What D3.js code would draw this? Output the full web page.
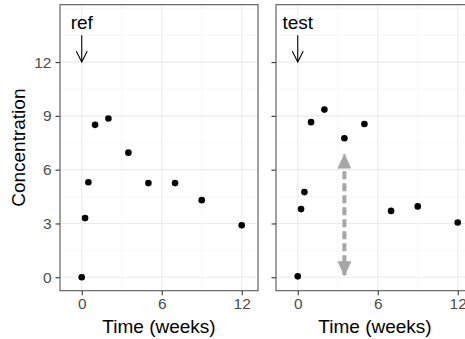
<!DOCTYPE html>
<html>
<head>
<meta charset="utf-8">
<script src="https://cdn.jsdelivr.net/npm/d3@7"></script>
<style>
  body { margin: 0; background: #fff; }
  svg { display: block; font-family: "Liberation Sans", Arial, sans-serif; }
</style>
</head>
<body>
<div id="chart"></div>
<script>
// data
var panels = ["ref", "test"];
var times = [0, 0.25, 0.5, 1, 2, 3.5, 5, 7, 9, 12];
var refConc = [0, 3.3, 5.3, 8.5, 8.85, 6.95, 5.25, 5.25, 4.3, 2.9];
var testConc = [0.05, 3.8, 4.75, 8.65, 9.35, 7.75, 8.55, 3.7, 3.95, 3.05];
var yTicks = [0, 3, 6, 9, 12];
var yMinor = [1.5, 4.5, 7.5, 10.5, 13.5, 15];
var xTicks = [0, 6, 12];
var xMinor = [3, 9];
var doseArrow = {x: 0, from: 13.5, to: 12};
var diffArrow = {x: 3.5, from: 0.05, to: 6.9};

var W = 465, H = 339;
var panelW = 198, pTop = 4.7, pBottom = 290.7;
var panelX = [60, 276];

var svg = d3.select("#chart").append("svg").attr("width", W).attr("height", H);
var defs = svg.append("defs");
defs.append("marker").attr("id", "open").attr("viewBox", "0 0 12 12")
  .attr("refX", 11).attr("refY", 6).attr("markerWidth", 12).attr("markerHeight", 12)
  .attr("markerUnits", "userSpaceOnUse").attr("orient", "auto")
  .append("path").attr("d", "M0,0.5 L11,6 L0,11.5").attr("fill", "none")
  .attr("stroke", "#000").attr("stroke-width", 1.1);
defs.append("marker").attr("id", "tri").attr("viewBox", "0 0 15 14")
  .attr("refX", 14).attr("refY", 7).attr("markerWidth", 15).attr("markerHeight", 14)
  .attr("markerUnits", "userSpaceOnUse").attr("orient", "auto-start-reverse")
  .append("path").attr("d", "M0,0 L15,7 L0,14 Z").attr("fill", "#a6a6a6");

var y = d3.scaleLinear().domain([-0.75, 15.2]).range([pBottom, pTop]);

panels.forEach(function (name, i) {
  var x = d3.scaleLinear().domain([-1.63, 13.22]).range([panelX[i], panelX[i] + panelW]);
  var g = svg.append("g");
  var conc = i == 0 ? refConc : testConc;

  // grid
  g.selectAll(".ymin").data(yMinor).enter().append("line")
    .attr("x1", x.range()[0]).attr("x2", x.range()[1])
    .attr("y1", d => y(d)).attr("y2", d => y(d))
    .attr("stroke", "#f2f2f2").attr("stroke-width", 0.7);
  g.selectAll(".xmin").data(xMinor).enter().append("line")
    .attr("y1", pTop).attr("y2", pBottom)
    .attr("x1", d => x(d)).attr("x2", d => x(d))
    .attr("stroke", "#f2f2f2").attr("stroke-width", 0.7);
  g.selectAll(".ymaj").data(yTicks).enter().append("line")
    .attr("x1", x.range()[0]).attr("x2", x.range()[1])
    .attr("y1", d => y(d)).attr("y2", d => y(d))
    .attr("stroke", "#ebebeb").attr("stroke-width", 1.1);
  g.selectAll(".xmaj").data(xTicks).enter().append("line")
    .attr("y1", pTop).attr("y2", pBottom)
    .attr("x1", d => x(d)).attr("x2", d => x(d))
    .attr("stroke", "#ebebeb").attr("stroke-width", 1.1);

  // axes
  var ya = g.append("g").attr("transform", "translate(" + panelX[i] + ",0)")
    .call(d3.axisLeft(y).tickValues(yTicks).tickSize(4.5).tickPadding(4)
      .tickFormat(i == 0 ? d3.format("d") : ""));
  var xa = g.append("g").attr("transform", "translate(0," + pBottom + ")")
    .call(d3.axisBottom(x).tickValues(xTicks).tickSize(4.5).tickPadding(3));
  [ya, xa].forEach(function (a) {
    a.select(".domain").remove();
    a.selectAll(".tick line").attr("stroke", "#333").attr("stroke-width", 1.1);
    a.selectAll("text").attr("fill", "#4d4d4d").style("font-size", "15.5px")
      .style("font-family", "Liberation Sans, Arial, sans-serif");
  });

  // arrows
  if (i == 1) {
    g.append("line")
      .attr("x1", x(diffArrow.x)).attr("x2", x(diffArrow.x))
      .attr("y1", y(diffArrow.from) - 1).attr("y2", y(diffArrow.to) + 1)
      .attr("stroke", "#a6a6a6").attr("stroke-width", 4)
      .attr("stroke-dasharray", "8,4")
      .attr("marker-start", "url(#tri)").attr("marker-end", "url(#tri)");
  }
  g.append("line")
    .attr("x1", x(doseArrow.x)).attr("x2", x(doseArrow.x))
    .attr("y1", y(doseArrow.from)).attr("y2", y(doseArrow.to))
    .attr("stroke", "#000").attr("stroke-width", 1.1)
    .attr("marker-end", "url(#open)");
  g.append("text").attr("x", x(doseArrow.x)).attr("y", 29)
    .attr("text-anchor", "middle").style("font-size", "19px").text(name);

  // points
  g.selectAll("circle").data(times).enter().append("circle")
    .attr("cx", d => x(d)).attr("cy", (d, j) => y(conc[j]))
    .attr("r", 3.3).attr("fill", "#000");

  // border
  g.append("rect").attr("x", panelX[i]).attr("y", pTop)
    .attr("width", panelW).attr("height", pBottom - pTop)
    .attr("fill", "none").attr("stroke", "#555").attr("stroke-width", 1.1);

  svg.append("text").attr("x", panelX[i] + panelW / 2).attr("y", 333)
    .attr("text-anchor", "middle").style("font-size", "19px").text("Time (weeks)");
});

svg.append("text").attr("transform", "translate(25," + (pTop + pBottom) / 2 + ") rotate(-90)")
  .attr("text-anchor", "middle").style("font-size", "19px").text("Concentration");
</script>
</body>
</html>
